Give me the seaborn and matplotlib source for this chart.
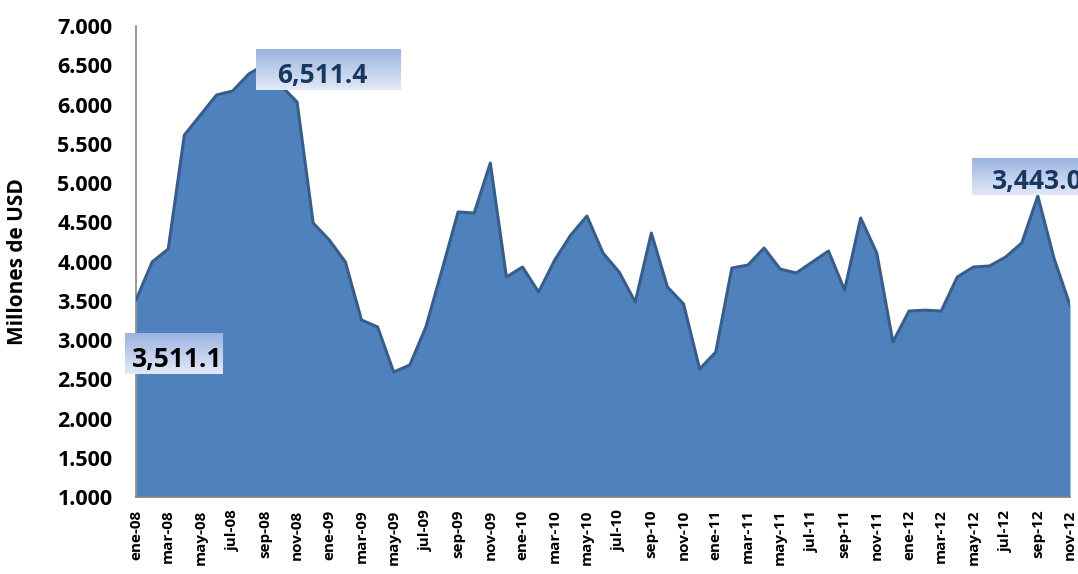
import numpy as np
import pandas as pd
import matplotlib
matplotlib.use("Agg")
import matplotlib.pyplot as plt
import seaborn as sns
from matplotlib.colors import LinearSegmentedColormap

# ---------------- data ----------------
months = ["ene", "feb", "mar", "abr", "may", "jun", "jul", "ago", "sep", "oct", "nov", "dic"]
years = ["08", "09", "10", "11", "12"]
periods = [f"{m}-{y}" for y in years for m in months][:59]   # ene-08 .. nov-12

values = [
    3511.1, 3994, 4160, 5611, 5866, 6121, 6172, 6388, 6511.4, 6240, 6032, 4490,   # 2008
    4274, 3994, 3255, 3166, 2592, 2682, 3166, 3892, 4631, 4618, 5255, 3803,       # 2009
    3930, 3611, 4019, 4338, 4580, 4108, 3866, 3484, 4363, 3675, 3459, 2631,       # 2010
    2847, 3917, 3955, 4172, 3904, 3854, 3994, 4134, 3637, 4554, 4108, 2975,       # 2011
    3369, 3380, 3369, 3803, 3930, 3943, 4057, 4236, 4834, 4045, 3443.0,           # 2012
]

y_ticks = [1000, 1500, 2000, 2500, 3000, 3500, 4000, 4500, 5000, 5500, 6000, 6500, 7000]
y_tick_labels = ["1.000", "1.500", "2.000", "2.500", "3.000", "3.500", "4.000",
                 "4.500", "5.000", "5.500", "6.000", "6.500", "7.000"]

label_texts = ["3,511.1", "6,511.4", "3,443.0"]

df = pd.DataFrame({"idx": np.arange(len(values)), "periodo": periods, "valor": values})

# ---------------- style ----------------
sns.set_theme(style="white")
plt.rcParams["font.family"] = ["Open Sans", "DejaVu Sans"]

FILL = "#4F81BD"
EDGE = "#385D8A"
AXC = "#868686"

fig = plt.figure(figsize=(10.78, 5.74), dpi=100)
ax = fig.add_axes([0.1262, 0.1341, 0.8664, 0.8206])

ax.fill_between(df["idx"], 1000, df["valor"], color=FILL, zorder=2, linewidth=0)
sns.lineplot(data=df, x="idx", y="valor", ax=ax, color=EDGE, linewidth=2.2, zorder=3)

ax.set_ylim(1000, 7000)
ax.set_yticks(y_ticks)
ax.set_yticklabels(y_tick_labels, fontsize=15.5, fontweight="bold", color="black")
xt = df["idx"][::2]
ax.set_xticks(xt)
ax.set_xticklabels(df["periodo"][::2], rotation=90, fontsize=11, fontweight="bold", color="black")

ax.tick_params(axis="both", which="major", length=5, width=1, color=AXC, direction="out")
ax.tick_params(axis="y", pad=12)
ax.tick_params(axis="x", pad=4)
for s in ["top", "right"]:
    ax.spines[s].set_visible(False)
for s in ["left", "bottom"]:
    ax.spines[s].set_color(AXC)
    ax.spines[s].set_linewidth(1.2)
ax.set_xlabel("")
ax.set_ylabel("Millones de USD", fontsize=15, fontweight="bold", color="black")
ax.yaxis.set_label_coords(-0.1155, 0.5)
ax.grid(False)

# ---------------- data label boxes (gradient) ----------------
grad = np.linspace(0, 1, 64).reshape(-1, 1)
cmap = LinearSegmentedColormap.from_list("lbl", ["#E2E9F6", "#9CB4E1"])

# box bounds in data coords (x0, y0, w, h), text offset, text colour
boxes = [
    ((-0.68, 2570, 6.08, 520), 0.45, "#000000"),
    ((7.45, 6185, 8.95, 510), 1.3, "#17375E"),
    ((51.9, 4847, 7.6, 470), 1.25, "#17375E"),
]
for (b, off, tc), txt in zip(boxes, label_texts):
    x0, y0, w, h = b
    ax.imshow(grad, cmap=cmap, aspect="auto", origin="lower",
              extent=[x0, x0 + w, y0, y0 + h], zorder=5, clip_on=False)
    ax.text(x0 + off, y0 + h * 0.36, txt, ha="left", va="center",
            fontsize=19, fontweight="bold", color=tc, zorder=6, clip_on=False)

ax.set_xlim(0, len(values) - 1)
ax.set_ylim(1000, 7000)

fig.savefig("out.png", dpi=100)
